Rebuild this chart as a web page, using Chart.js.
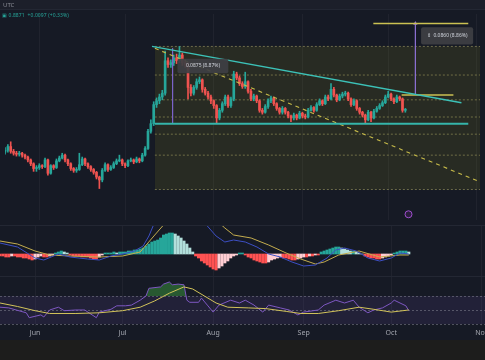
<!DOCTYPE html>
<html>
<head>
<meta charset="utf-8">
<script src="https://cdn.jsdelivr.net/npm/chart.js@4.4.1/dist/chart.umd.min.js"></script>
<style>
html, body { margin: 0; padding: 0; width: 485px; height: 360px; overflow: hidden; background: #1d1d1c; font-family: 'Noto Sans', sans-serif; }
.pane { position: absolute; left: 0; width: 485px; background: #161a25; }
#top { top: 0; height: 9px; background: #1c1f2a; }
#main { top: 9px; height: 216px; }
#macd { top: 225px; height: 51px; }
#rsi { top: 276px; height: 64px; }
.sep { position: absolute; left: 0; width: 485px; height: 1px; background: #232733; }
#tz { position: absolute; left: 3px; top: 1px; font-size: 6px; color: #8a8d96; }
#quote { position: absolute; left: 2px; top: 12px; font-size: 5px; color: #26a69a; letter-spacing: 0.1px; }
</style>
</head>
<body>
<div class="pane" id="top"></div>
<div class="pane" id="main"><canvas id="mainChart"></canvas></div>
<div class="pane" id="macd"><canvas id="macdChart"></canvas></div>
<div class="pane" id="rsi"><canvas id="rsiChart"></canvas></div>
<div class="sep" style="top:9px"></div>
<div class="sep" style="top:225px"></div>
<div class="sep" style="top:276px"></div>
<div id="tz">UTC</div>
<div id="quote">&#9635; 0.8871 &nbsp;+0.0097 (+0.33%)</div>
<script>
// days counted from May 20, one candle per day
const monthLabels = ['Jun', 'Jul', 'Aug', 'Sep', 'Oct', 'Nov'];
const monthDays = [12, 42, 73, 104, 134, 165];

const firstOpen = 0.843;
const closes = [
  .845,.849,.844,.842,.841,.842,.840,.838,.835,.831,
  .826,.827,.829,.828,.835,.821,.829,.827,.834,.837,
  .840,.835,.831,.826,.824,.825,.830,.836,.831,.828,
  .825,.822,.817,.814,.824,.830,.825,.827,.831,.834,
  .835,.831,.829,.834,.835,.833,.836,.834,.840,.847,
  .865,.873,.893,.897,.901,.905,.939,.935,.937,.942,
  .939,.945,.937,.935,.911,.905,.911,.917,.919,.909,
  .905,.901,.897,.892,.879,.887,.894,.901,.892,.899,
  .925,.921,.915,.912,.917,.907,.899,.902,.897,.887,
  .885,.891,.897,.900,.894,.889,.885,.889,.885,.881,
  .879,.882,.879,.884,.881,.880,.887,.890,.887,.893,
  .897,.894,.901,.899,.909,.903,.898,.902,.904,.905,
  .899,.893,.897,.889,.885,.882,.877,.885,.879,.886,
  .889,.892,.895,.901,.904,.899,.896,.901,.899,.887,
  .888
];
const highs = [
  .848,.851,.854,.846,.844,.844,.843,.841,.839,.836,
  .832,.829,.831,.830,.837,.836,.830,.830,.836,.839,
  .842,.841,.836,.832,.827,.827,.842,.838,.837,.832,
  .829,.826,.823,.818,.826,.832,.831,.829,.833,.836,
  .840,.836,.832,.835,.837,.836,.838,.837,.842,.849,
  .867,.877,.896,.900,.904,.908,.949,.942,.940,.945,
  .946,.954,.947,.940,.937,.914,.913,.920,.922,.920,
  .911,.907,.903,.898,.893,.889,.896,.903,.903,.901,
  .928,.927,.923,.917,.927,.918,.909,.904,.903,.898,
  .889,.893,.899,.902,.901,.895,.890,.891,.890,.886,
  .882,.884,.883,.886,.885,.883,.889,.892,.891,.895,
  .899,.898,.903,.903,.915,.911,.904,.904,.906,.907,
  .906,.900,.899,.898,.890,.886,.883,.887,.886,.888,
  .891,.894,.897,.903,.907,.905,.900,.903,.902,.900,
  .889
];
const lows = [
  .841,.843,.842,.840,.839,.839,.838,.836,.833,.829,
  .823,.823,.825,.826,.827,.819,.820,.825,.826,.833,
  .836,.833,.829,.824,.822,.822,.824,.829,.829,.826,
  .823,.820,.815,.805,.812,.823,.823,.824,.826,.830,
  .833,.829,.827,.828,.833,.831,.832,.832,.833,.839,
  .846,.863,.871,.890,.894,.898,.903,.932,.932,.934,
  .936,.937,.934,.932,.899,.902,.903,.909,.915,.906,
  .903,.899,.894,.889,.873,.877,.885,.892,.890,.890,
  .897,.919,.913,.910,.910,.905,.897,.897,.895,.885,
  .883,.884,.889,.895,.892,.887,.883,.883,.883,.879,
  .875,.877,.877,.878,.879,.878,.879,.886,.885,.886,
  .892,.892,.893,.897,.898,.901,.896,.897,.900,.902,
  .897,.891,.892,.887,.883,.880,.874,.876,.875,.878,
  .885,.888,.891,.894,.900,.897,.894,.895,.897,.885,
  .885
];

// drawings on the price pane
const boxStart = 52.4, boxEnd = 166.1;
const boxLevels = [0.954, 0.924, 0.898, 0.880, 0.862, 0.840, 0.804];
const supportLevel = 0.873;
const resistanceLine = [[51.4, 0.954], [159.6, 0.895]];
const projectionLine = [[52.4, 0.952], [166.1, 0.812]];
const rangeTop = 0.978, rangeBottom = 0.903;

// MACD
const macdHist = [
  -.002,-.002,-.003,-.003,-.002,-.002,-.003,-.003,-.004,-.004,
  -.005,-.006,-.005,-.003,-.002,-.003,-.003,-.002,-.001,.001,
  .002,.003,.002,.001,-.001,-.002,-.002,-.002,-.003,-.003,
  -.003,-.004,-.005,-.005,-.003,-.001,.001,.001,.001,.002,
  .001,.002,.002,.002,.003,.003,.004,.004,.005,.006,
  .008,.010,.012,.013,.014,.016,.019,.020,.021,.021,
  .020,.018,.016,.013,.010,.006,.002,-.002,-.004,-.007,
  -.009,-.011,-.013,-.015,-.016,-.014,-.012,-.009,-.007,-.004,
  -.002,-.001,.001,.001,-.001,-.003,-.004,-.006,-.007,-.008,
  -.009,-.009,-.008,-.006,-.005,-.004,-.003,-.004,-.004,-.005,
  -.006,-.006,-.005,-.004,-.003,-.003,-.002,-.002,-.001,-.001,
  .002,.003,.004,.005,.006,.007,.007,.006,.005,.004,
  .003,.003,.002,.001,0,-.002,-.003,-.004,-.004,-.005,
  -.005,-.004,-.003,-.002,-.001,.001,.002,.003,.003,.003,
  .002
];
const macdDays = [0,6,12,15,20,24,30,34,38,42,46,49,51,53,56,60,64,68,71,74,77,80,84,88,92,96,100,104,108,112,115,118,122,126,130,134,137,140];
const macdLine = [.011,.007,-.004,-.006,0,-.003,-.005,-.006,-.002,0,.003,.008,.018,.032,.048,.055,.050,.038,.028,.018,.012,.014,.012,.007,0,-.003,-.008,-.012,-.011,-.004,.004,.006,.003,-.004,-.007,-.004,.001,0];
const signalDays = [0,6,12,17,24,34,42,48,53,56,60,64,68,71,74,77,80,86,92,98,103,108,111,116,123,130,137,140];
const signalLine = [.013,.010,.003,-.001,-.002,-.003,-.002,.002,.019,.029,.035,.038,.040,.038,.034,.026,.019,.016,.009,.001,-.005,-.010,-.008,-.001,.003,-.003,-.001,-.001];

// RSI
const rsiLevels = [70, 50, 30];
const rsiDays = [0,3,9,10,14,15,17,20,22,26,29,33,34,38,40,43,45,48,50,51,55,56,58,59,61,63,64,65,68,69,71,73,75,79,82,84,87,90,92,96,99,102,104,109,111,115,118,121,123,126,128,131,134,135,139,140];
const rsiValues = [54,53,46,39,43,40,50,54,49,50,50,39,47,51,56,56,57,64,70,81,83,87,90,86,87,86,64,61,61,67,57,47,57,64,60,64,57,47,57,53,50,43,47,50,57,64,60,64,54,46,50,53,60,64,56,49];
const rsiMaDays = [0,6,12,17,26,34,42,48,53,58,63,66,70,74,78,85,91,98,103,109,116,123,128,134,140];
const rsiMaValues = [60,55,49,45,45,46,49,54,63,74,83,80,70,60,54,53,52,48,45,45,49,54,51,47,50];

const measureLabels = [
  { text: '\u21D5  0.0860 (8.86%)', from: 145.5, to: 163.7, top: 0.974, bottom: 0.956 },
  { text: '0.0875 (8.87%)', from: 60.3, to: 78.1, top: 0.941, bottom: 0.926 }
];

const UP = '#26a69a', DOWN = '#ef5350';
const opens = closes.map((c, i) => i === 0 ? firstOpen : closes[i - 1]);
const candleColors = closes.map((c, i) => c >= opens[i] ? UP : DOWN);
const pts = (days, vals) => days.map((d, i) => ({ x: d, y: vals[i] }));
const seg = (a, b) => [{ x: a[0], y: a[1] }, { x: b[0], y: b[1] }];

function timeAxis(labels) {
  return {
    type: 'linear', min: 0, max: 166.1, offset: false,
    afterBuildTicks: s => { s.ticks = monthDays.map(v => ({ value: v })); },
    afterFit: s => { s.height = labels ? 14 : 0; s.paddingLeft = 0; s.paddingRight = 0; },
    grid: { color: 'rgba(255,255,255,0.045)', drawTicks: false, offset: false },
    border: { display: false },
    ticks: labels ? {
      autoSkip: false, maxRotation: 0, padding: 3, color: '#a3a6af',
      font: { family: 'Noto Sans', size: 7 },
      callback: v => monthLabels[monthDays.indexOf(v)]
    } : { display: false }
  };
}

const base = {
  responsive: true, maintainAspectRatio: false, animation: false, events: [],
  layout: { padding: 0 },
  plugins: { legend: { display: false }, tooltip: { enabled: false } }
};

function line(data, color, extra) {
  return Object.assign({ type: 'line', data, borderColor: color, borderWidth: 1, pointRadius: 0, tension: 0, fill: false, order: 0 }, extra);
}

// price pane
const levelSets = boxLevels.map((lv, i) => line(
  [{ x: boxStart, y: lv }, { x: boxEnd, y: lv }], 'rgba(175,172,110,0.55)',
  { borderDash: [2, 2], order: 6, fill: i === 0 ? { target: boxLevels.length } : false,
    backgroundColor: 'rgba(150,140,25,0.15)' }
));

const labelPlugin = {
  id: 'measureLabels',
  afterDatasetsDraw(chart) {
    const { ctx, scales: { x, y } } = chart;
    ctx.save();
    measureLabels.forEach(l => {
      const x0 = x.getPixelForValue(l.from), x1 = x.getPixelForValue(l.to);
      const y0 = y.getPixelForValue(l.top), y1 = y.getPixelForValue(l.bottom);
      ctx.fillStyle = 'rgba(62,63,68,0.93)';
      ctx.beginPath();
      ctx.roundRect(x0, y0, x1 - x0, y1 - y0, 2);
      ctx.fill();
      ctx.fillStyle = '#d1d4dc';
      ctx.font = '5px "Noto Sans"';
      ctx.textAlign = 'center';
      ctx.textBaseline = 'middle';
      ctx.fillText(l.text, (x0 + x1) / 2, (y0 + y1) / 2);
    });
    ctx.restore();
  }
};

new Chart(document.getElementById('mainChart'), {
  type: 'bar',
  data: {
    datasets: [
      ...levelSets,
      line([{ x: boxStart, y: boxLevels[boxLevels.length - 1] }, { x: boxEnd, y: boxLevels[boxLevels.length - 1] }], 'rgba(0,0,0,0)', { order: 7 }),
      line([{ x: boxStart, y: supportLevel }, { x: 162, y: supportLevel }], '#35b5aa', { borderWidth: 2 }),
      line(seg(...resistanceLine), '#3cc2b8', { borderWidth: 1.4 }),
      line(seg(...projectionLine), '#c8bc4a', { borderDash: [4, 4], borderWidth: 1.1 }),
      line([{ x: 128.8, y: rangeTop }, { x: 162, y: rangeTop }], '#cbc152', { borderWidth: 1.5 }),
      line([{ x: 138.7, y: rangeBottom }, { x: 156.8, y: rangeBottom }], '#cbc152', { borderWidth: 1.5 }),
      line([{ x: 143.5, y: rangeBottom }, { x: 143.5, y: rangeTop }], '#8f72d6',
        { borderWidth: 1.2, pointRadius: [0, 2.5], pointStyle: 'triangle', pointBackgroundColor: '#8f72d6', pointBorderWidth: 0 }),
      line([{ x: 58.6, y: 0.952 }, { x: 58.6, y: supportLevel }], '#7b63c9', { borderWidth: 1 }),
      line([{ x: 141.1, y: 0.778 }], '#a04fd0', { showLine: false, pointRadius: 3.5, pointBorderWidth: 1, pointBackgroundColor: '#2a1e3c', pointBorderColor: '#a04fd0' }),
      {
        type: 'bar', data: closes.map((c, i) => ({ x: i, y: [lows[i], highs[i]] })),
        backgroundColor: candleColors, barThickness: 1, grouped: false, order: 2
      },
      {
        type: 'bar', data: closes.map((c, i) => ({ x: i, y: [opens[i], c] })),
        backgroundColor: candleColors, barThickness: 2, minBarLength: 1, grouped: false, order: 1
      }
    ]
  },
  options: Object.assign({}, base, {
    scales: { x: timeAxis(false), y: { display: false, min: 0.772, max: 0.988 } }
  }),
  plugins: [labelPlugin]
});

// MACD pane
const histColors = macdHist.map((v, i) => {
  const prev = i ? macdHist[i - 1] : v;
  if (v >= 0) return v >= prev ? '#26a69a' : '#b2dfdb';
  return v <= prev ? '#ff5252' : '#ffcdd2';
});

new Chart(document.getElementById('macdChart'), {
  type: 'bar',
  data: {
    datasets: [
      line(pts(macdDays, macdLine), '#3d4fc4', { borderWidth: 1 }),
      line(pts(signalDays, signalLine), '#c4ad4e', { borderWidth: 1 }),
      { type: 'bar', data: macdHist.map((v, i) => ({ x: i, y: v })), backgroundColor: histColors, barThickness: 2.4, grouped: false, order: 3 }
    ]
  },
  options: Object.assign({}, base, {
    scales: { x: timeAxis(false), y: { display: false, min: -0.022, max: 0.029 } }
  })
});

// RSI pane
const bandPlugin = {
  id: 'rsiBand',
  beforeDatasetsDraw(chart) {
    const { ctx, chartArea: a, scales: { y } } = chart;
    const t = y.getPixelForValue(rsiLevels[0]), b = y.getPixelForValue(rsiLevels[2]);
    ctx.save();
    ctx.fillStyle = 'rgba(126,87,194,0.12)';
    ctx.fillRect(a.left, t, a.width, b - t);
    ctx.strokeStyle = 'rgba(150,150,165,0.45)';
    ctx.setLineDash([2, 2]);
    ctx.lineWidth = 1;
    rsiLevels.forEach(lv => {
      const p = Math.round(y.getPixelForValue(lv)) + 0.5;
      ctx.beginPath(); ctx.moveTo(a.left, p); ctx.lineTo(a.right, p); ctx.stroke();
    });
    ctx.restore();
  }
};

new Chart(document.getElementById('rsiChart'), {
  type: 'line',
  data: {
    datasets: [
      line(pts(rsiMaDays, rsiMaValues), '#d2c35a', { borderWidth: 1 }),
      line(pts(rsiDays, rsiValues), '#7e57c2', {
        borderWidth: 1, order: 1,
        fill: { value: 70, above: 'rgba(56,142,60,0.55)', below: 'rgba(0,0,0,0)' }
      })
    ]
  },
  options: Object.assign({}, base, {
    scales: { x: timeAxis(true), y: { display: false, min: 27.14, max: 98.57 } }
  }),
  plugins: [bandPlugin]
});
</script>
</body>
</html>
